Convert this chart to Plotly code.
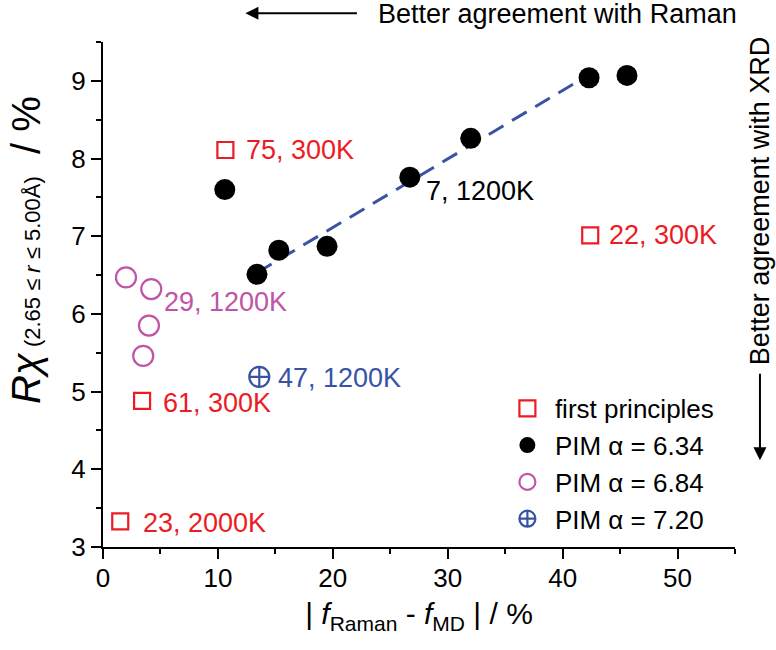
import plotly.graph_objects as go

# ---------------- data ----------------
fp_x = [1.5, 3.4, 10.65, 42.4]
fp_y = [3.33, 4.88, 8.11, 7.01]
fp_labels = ["23, 2000K", "61, 300K", "75, 300K", "22, 300K"]

pim634_x = [10.6, 13.4, 15.3, 19.5, 26.7, 32.0, 42.3, 45.6]
pim634_y = [7.60, 6.51, 6.82, 6.87, 7.76, 8.26, 9.04, 9.07]
pim634_label = "7, 1200K"
pim634_label_idx = 4

pim684_x = [2.0, 4.2, 4.0, 3.5]
pim684_y = [6.47, 6.32, 5.85, 5.46]
pim684_label = "29, 1200K"
pim684_label_idx = 1

pim720_x = [13.6]
pim720_y = [5.19]
pim720_label = "47, 1200K"

fit_x = [13.4, 42.3]
fit_y = [6.53, 9.08]

legend_names = ["first principles", "PIM \u03b1 = 6.34", "PIM \u03b1 = 6.84", "PIM \u03b1 = 7.20"]

# ---------------- style ----------------
RED = "#ec1c24"
MAG = "#c054a6"
BLUE = "#3953a4"
BLACK = "#000000"
FONT = "Liberation Sans, Arial, Helvetica, sans-serif"
FS = 26
FA = 27

fig = go.Figure()

fig.add_trace(go.Scatter(x=fit_x, y=fit_y, mode="lines", showlegend=False,
                         line=dict(color=BLUE, width=3, dash="17px,10px")))
fig.add_trace(go.Scatter(x=fp_x, y=fp_y, mode="markers", name=legend_names[0],
                         marker=dict(symbol="square-open", size=16, color=RED,
                                     line=dict(width=2.2, color=RED))))
fig.add_trace(go.Scatter(x=pim634_x, y=pim634_y, mode="markers", name=legend_names[1],
                         marker=dict(symbol="circle", size=21, color=BLACK,
                                     line=dict(width=0))))
fig.add_trace(go.Scatter(x=pim684_x, y=pim684_y, mode="markers", name=legend_names[2],
                         marker=dict(symbol="circle-open", size=20, color=MAG,
                                     line=dict(width=2.2, color=MAG))))
fig.add_trace(go.Scatter(x=pim720_x, y=pim720_y, mode="markers", name=legend_names[3],
                         marker=dict(symbol="circle-cross-open", size=20, color=BLUE,
                                     line=dict(width=2.2, color=BLUE))))

# point labels (anchored on the data points, offset in pixels)
fp_offsets = [(21, -2), (19, -2), (19, 0), (17, 0)]
for x, y, t, (dx, dy) in zip(fp_x, fp_y, fp_labels, fp_offsets):
    fig.add_annotation(x=x, y=y, text=t, showarrow=False, xanchor="left", yanchor="middle",
                       xshift=dx, yshift=dy, font=dict(family=FONT, size=FA, color=RED))
fig.add_annotation(x=pim634_x[pim634_label_idx], y=pim634_y[pim634_label_idx], text=pim634_label,
                   showarrow=False, xanchor="left", yanchor="middle", xshift=14, yshift=-14,
                   font=dict(family=FONT, size=FA, color=BLACK))
fig.add_annotation(x=pim684_x[pim684_label_idx], y=pim684_y[pim684_label_idx], text=pim684_label,
                   showarrow=False, xanchor="left", yanchor="middle", xshift=11, yshift=-13,
                   font=dict(family=FONT, size=FA, color=MAG))
fig.add_annotation(x=pim720_x[0], y=pim720_y[0], text=pim720_label,
                   showarrow=False, xanchor="left", yanchor="middle", xshift=17, yshift=-1,
                   font=dict(family=FONT, size=FA, color=BLUE))

# direction arrows and texts
fig.add_annotation(xref="paper", yref="paper", x=0.2253, y=1.0568, ax=113, ay=0,
                   axref="pixel", ayref="pixel", text="", showarrow=True,
                   arrowhead=2, arrowsize=1.3, arrowwidth=2, arrowcolor=BLACK)
fig.add_annotation(xref="paper", yref="paper", x=0.4324, y=1.0549, text="Better agreement with Raman",
                   showarrow=False, xanchor="left", yanchor="middle",
                   font=dict(family=FONT, size=FA, color=BLACK))
fig.add_annotation(xref="paper", yref="paper", x=1.0395, y=0.1717, ax=0, ay=-88,
                   axref="pixel", ayref="pixel", text="", showarrow=True,
                   arrowhead=2, arrowsize=1.3, arrowwidth=2, arrowcolor=BLACK)
fig.add_annotation(xref="paper", yref="paper", x=1.0395, y=0.6865, text="Better agreement with XRD",
                   showarrow=False, textangle=-90, xanchor="center", yanchor="middle",
                   font=dict(family=FONT, size=FA, color=BLACK))

# y-axis title
fig.add_annotation(xref="paper", yref="paper", x=-0.122, y=0.588, textangle=-90,
                   text="<i>R</i><i>\u03c7</i><span style='font-size:22px'> (2.65 \u2264 <i>r</i> \u2264 5.00\u00c5)</span>  / %",
                   showarrow=False, xanchor="center", yanchor="middle",
                   font=dict(family=FONT, size=40, color=BLACK))

axis_common = dict(showline=True, linecolor=BLACK, linewidth=2, showgrid=False, zeroline=False,
                   tickcolor=BLACK, tickwidth=2, ticklen=10,
                   tickfont=dict(family=FONT, size=FS, color=BLACK))

fig.update_layout(
    width=776, height=650,
    margin=dict(l=102.5, r=41, t=41.7, b=103.3),
    plot_bgcolor="white", paper_bgcolor="white",
    font=dict(family=FONT, size=FS, color=BLACK),
    xaxis=dict(range=[0, 55], dtick=10, tick0=0, ticks="outside", ticklabelstandoff=-3,
               minor=dict(dtick=5, tick0=0, ticks="outside", ticklen=5, tickwidth=2, tickcolor=BLACK),
               title=dict(text="| <i>f</i><sub>Raman</sub> - <i>f</i><sub>MD</sub> | / %",
                          font=dict(family=FONT, size=30), standoff=11),
               **axis_common),
    yaxis=dict(range=[3, 9.5], dtick=1, tick0=3, ticks="outside",
               minor=dict(dtick=0.5, tick0=3, ticks="outside", ticklen=5, tickwidth=2, tickcolor=BLACK),
               **axis_common),
    xaxis2=dict(range=[0, 55], dtick=10, tick0=0, ticks="inside", overlaying="x", side="top",
                anchor="y", showticklabels=False,
                minor=dict(dtick=5, tick0=0, ticks="inside", ticklen=5, tickwidth=2, tickcolor=BLACK),
                **axis_common),
    yaxis2=dict(range=[3, 9.5], dtick=1, tick0=3, ticks="inside", overlaying="y", side="right",
                anchor="x", showticklabels=False,
                minor=dict(dtick=0.5, tick0=3, ticks="inside", ticklen=5, tickwidth=2, tickcolor=BLACK),
                **axis_common),
    legend=dict(x=0.628, y=0.321, xanchor="left", yanchor="top", bgcolor="rgba(0,0,0,0)",
                font=dict(family=FONT, size=FS), itemwidth=45, tracegroupgap=0),
    showlegend=True,
)

fig.write_html("out.html", config={"displayModeBar": False},
               post_script="document.body.style.margin='0px';")
